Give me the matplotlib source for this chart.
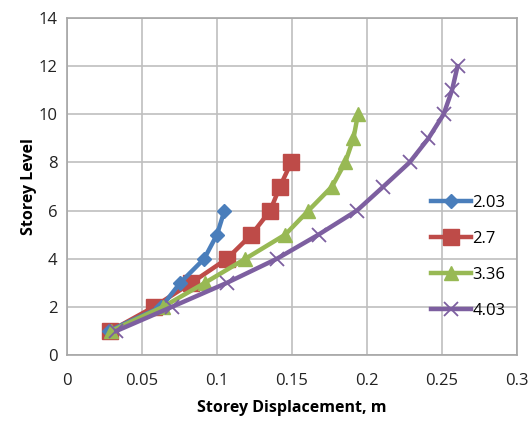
import matplotlib
matplotlib.use('Agg')
import matplotlib.pyplot as plt

# storey displacement (m) for each storey height series
lv_203 = [1, 2, 3, 4, 5, 6]
d_203 = [0.028, 0.063, 0.0755, 0.0915, 0.100, 0.105]

lv_27 = [1, 2, 3, 4, 5, 6, 7, 8]
d_27 = [0.029, 0.058, 0.083, 0.1067, 0.123, 0.1355, 0.142, 0.1495]

lv_336 = [1, 2, 3, 4, 5, 6, 7, 8, 9, 10]
d_336 = [0.0295, 0.064, 0.092, 0.119, 0.1455, 0.161, 0.1767, 0.1855, 0.191, 0.194]

lv_403 = [1, 2, 3, 4, 5, 6, 7, 8, 9, 10, 11, 12]
d_403 = [0.033, 0.070, 0.1067, 0.140, 0.1677, 0.1933, 0.211, 0.2284, 0.241, 0.2511, 0.2567, 0.2604]

labels = ['2.03', '2.7', '3.36', '4.03']

plt.rcParams['font.family'] = ['Open Sans', 'DejaVu Sans']

fig = plt.figure(figsize=(5.3, 4.23), dpi=100)
ax = fig.add_axes([0.1264, 0.1608, 0.849, 0.7966])

ax.plot(d_203, lv_203, color='#4A7EBB', lw=3.2, marker='D', ms=7, label=labels[0], zorder=3)
ax.plot(d_27, lv_27, color='#BE4B48', lw=3.2, marker='s', ms=11, label=labels[1], zorder=2)
ax.plot(d_336, lv_336, color='#98B954', lw=3.2, marker='^', ms=10, label=labels[2], zorder=4)
ax.plot(d_403, lv_403, color='#7D5FA0', lw=3.2, marker='x', ms=10, mew=1.3, label=labels[3], zorder=5)

ax.set_xlim(0, 0.3)
ax.set_ylim(0, 14)
ax.set_xticks([0, 0.05, 0.1, 0.15, 0.2, 0.25, 0.3])
ax.set_xticklabels(['0', '0.05', '0.1', '0.15', '0.2', '0.25', '0.3'])
ax.set_yticks(range(0, 15, 2))
ax.grid(True, color='#BFBFBF', lw=1.2)
ax.set_axisbelow(True)
for s in ax.spines.values():
    s.set_color('#A6A6A6')
    s.set_linewidth(1.2)
ax.tick_params(length=0, labelsize=12, colors='#222222', pad=7)
ax.tick_params(axis='x', pad=13)

ax.set_xlabel('Storey Displacement, m', fontsize=11.5, fontweight='bold', labelpad=8)
ax.set_ylabel('Storey Level', fontsize=11.5, fontweight='bold', labelpad=1)

leg = fig.legend(loc='upper left', bbox_to_anchor=(0.80, 0.555), frameon=False,
                 fontsize=12, handlelength=2.4, labelspacing=1.2, handletextpad=0.1,
                 borderaxespad=0)

plt.savefig('out.png', dpi=100)
plt.close()
